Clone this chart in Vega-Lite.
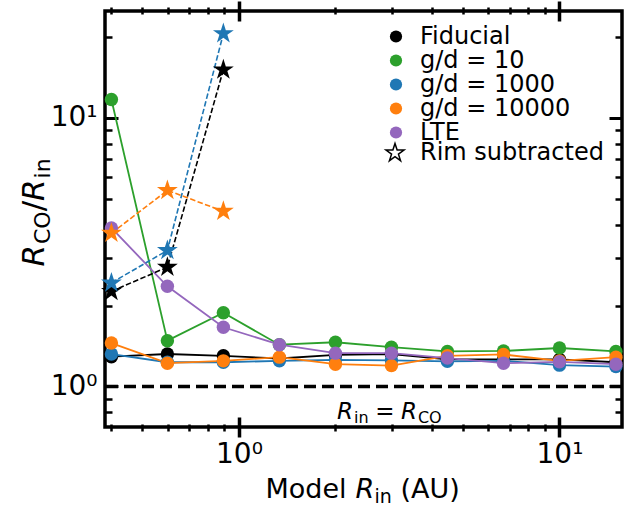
{
  "$schema": "https://vega.github.io/schema/vega-lite/v6.json",
  "width": 517,
  "height": 416,
  "autosize": {"type": "none"},
  "padding": {"left": 105, "top": 11, "right": 22, "bottom": 80},
  "background": "white",
  "config": {
    "font": "DejaVu Sans",
    "view": {"stroke": "black", "strokeWidth": 3.5},
    "axis": {"grid": false, "domain": false, "labelColor": "black", "titleColor": "black", "tickColor": "black", "titleFontWeight": "normal", "titleFont": "DejaVu Sans", "labelFont": "DejaVu Sans", "labelFlush": false, "labelOverlap": false, "labelBound": false}
  },
  "data": {"values": [
    {"series": "Fiducial", "rin": 0.4, "ratio": 1.29, "rim": false},
    {"series": "Fiducial", "rin": 0.598, "ratio": 1.32, "rim": false},
    {"series": "Fiducial", "rin": 0.894, "ratio": 1.30, "rim": false},
    {"series": "Fiducial", "rin": 1.337, "ratio": 1.27, "rim": false},
    {"series": "Fiducial", "rin": 2.0, "ratio": 1.31, "rim": false},
    {"series": "Fiducial", "rin": 2.99, "ratio": 1.32, "rim": false},
    {"series": "Fiducial", "rin": 4.47, "ratio": 1.26, "rim": false},
    {"series": "Fiducial", "rin": 6.69, "ratio": 1.26, "rim": false},
    {"series": "Fiducial", "rin": 10.0, "ratio": 1.26, "rim": false},
    {"series": "Fiducial", "rin": 15.0, "ratio": 1.23, "rim": false},
    {"series": "g/d = 10", "rin": 0.4, "ratio": 11.7, "rim": false},
    {"series": "g/d = 10", "rin": 0.598, "ratio": 1.48, "rim": false},
    {"series": "g/d = 10", "rin": 0.894, "ratio": 1.88, "rim": false},
    {"series": "g/d = 10", "rin": 1.337, "ratio": 1.43, "rim": false},
    {"series": "g/d = 10", "rin": 2.0, "ratio": 1.46, "rim": false},
    {"series": "g/d = 10", "rin": 2.99, "ratio": 1.40, "rim": false},
    {"series": "g/d = 10", "rin": 4.47, "ratio": 1.35, "rim": false},
    {"series": "g/d = 10", "rin": 6.69, "ratio": 1.355, "rim": false},
    {"series": "g/d = 10", "rin": 10.0, "ratio": 1.39, "rim": false},
    {"series": "g/d = 10", "rin": 15.0, "ratio": 1.35, "rim": false},
    {"series": "g/d = 1000", "rin": 0.4, "ratio": 1.32, "rim": false},
    {"series": "g/d = 1000", "rin": 0.598, "ratio": 1.23, "rim": false},
    {"series": "g/d = 1000", "rin": 0.894, "ratio": 1.23, "rim": false},
    {"series": "g/d = 1000", "rin": 1.337, "ratio": 1.245, "rim": false},
    {"series": "g/d = 1000", "rin": 2.0, "ratio": 1.255, "rim": false},
    {"series": "g/d = 1000", "rin": 2.99, "ratio": 1.25, "rim": false},
    {"series": "g/d = 1000", "rin": 4.47, "ratio": 1.24, "rim": false},
    {"series": "g/d = 1000", "rin": 6.69, "ratio": 1.245, "rim": false},
    {"series": "g/d = 1000", "rin": 10.0, "ratio": 1.20, "rim": false},
    {"series": "g/d = 1000", "rin": 15.0, "ratio": 1.185, "rim": false},
    {"series": "g/d = 10000", "rin": 0.4, "ratio": 1.45, "rim": false},
    {"series": "g/d = 10000", "rin": 0.598, "ratio": 1.22, "rim": false},
    {"series": "g/d = 10000", "rin": 0.894, "ratio": 1.245, "rim": false},
    {"series": "g/d = 10000", "rin": 1.337, "ratio": 1.285, "rim": false},
    {"series": "g/d = 10000", "rin": 2.0, "ratio": 1.21, "rim": false},
    {"series": "g/d = 10000", "rin": 2.99, "ratio": 1.195, "rim": false},
    {"series": "g/d = 10000", "rin": 4.47, "ratio": 1.30, "rim": false},
    {"series": "g/d = 10000", "rin": 6.69, "ratio": 1.315, "rim": false},
    {"series": "g/d = 10000", "rin": 10.0, "ratio": 1.245, "rim": false},
    {"series": "g/d = 10000", "rin": 15.0, "ratio": 1.285, "rim": false},
    {"series": "LTE", "rin": 0.4, "ratio": 3.89, "rim": false},
    {"series": "LTE", "rin": 0.598, "ratio": 2.36, "rim": false},
    {"series": "LTE", "rin": 0.894, "ratio": 1.66, "rim": false},
    {"series": "LTE", "rin": 1.337, "ratio": 1.43, "rim": false},
    {"series": "LTE", "rin": 2.0, "ratio": 1.33, "rim": false},
    {"series": "LTE", "rin": 2.99, "ratio": 1.33, "rim": false},
    {"series": "LTE", "rin": 4.47, "ratio": 1.275, "rim": false},
    {"series": "LTE", "rin": 6.69, "ratio": 1.22, "rim": false},
    {"series": "LTE", "rin": 10.0, "ratio": 1.235, "rim": false},
    {"series": "LTE", "rin": 15.0, "ratio": 1.21, "rim": false},
    {"series": "Fiducial", "rin": 0.4, "ratio": 2.26, "rim": true},
    {"series": "Fiducial", "rin": 0.598, "ratio": 2.78, "rim": true},
    {"series": "Fiducial", "rin": 0.894, "ratio": 15.1, "rim": true},
    {"series": "g/d = 1000", "rin": 0.4, "ratio": 2.43, "rim": true},
    {"series": "g/d = 1000", "rin": 0.598, "ratio": 3.21, "rim": true},
    {"series": "g/d = 1000", "rin": 0.894, "ratio": 20.6, "rim": true},
    {"series": "g/d = 10000", "rin": 0.4, "ratio": 3.72, "rim": true},
    {"series": "g/d = 10000", "rin": 0.598, "ratio": 5.37, "rim": true},
    {"series": "g/d = 10000", "rin": 0.894, "ratio": 4.49, "rim": true}
  ]},
  "layer": [
    {
      "data": {"values": [{}]},
      "mark": {"type": "rule", "color": "black", "strokeWidth": 3.5, "strokeDash": [12, 6]},
      "encoding": {
        "y": {"datum": 1, "type": "quantitative", "scale": {"type": "log", "domain": [0.706, 25], "nice": false},
          "axis": {"orient": "left", "values": [1, 10], "ticks": false, "tickSize": 0, "labelExpr": "datum.value == 1 ? '10⁰' : '10¹'", "labelFontSize": 28, "labelPadding": 8,
            "title": "R", "titleFontStyle": "italic", "titleFontSize": 31, "titleX": -62, "titleY": 255, "titleAngle": 270, "titleAlign": "left", "titleBaseline": "alphabetic"}}
      }
    },
    {
      "transform": [{"filter": "!datum.rim"}],
      "mark": {"type": "line", "strokeWidth": 1.8},
      "encoding": {
        "x": {"field": "rin", "type": "quantitative", "scale": {"type": "log", "domain": [0.382, 15.67], "nice": false},
          "axis": {"orient": "bottom", "values": [1, 10], "offset": -10, "tickSize": 20, "tickWidth": 3.5, "labelExpr": "datum.value == 1 ? '10⁰' : '10¹'", "labelFontSize": 28, "labelPadding": 3,
            "title": "Model", "titleFontSize": 27, "titleX": 160, "titleY": 80, "titleAlign": "left", "titleBaseline": "alphabetic"}},
        "y": {"field": "ratio", "type": "quantitative", "scale": {"type": "log", "domain": [0.706, 25], "nice": false},
          "axis": {"orient": "left", "values": [1, 10], "offset": -13, "tickSize": 13, "tickWidth": 3, "labels": false,
            "title": "CO", "titleFontSize": 22, "titleX": -69, "titleY": 232.5, "titleAngle": 270, "titleAlign": "left", "titleBaseline": "alphabetic"}},
        "color": {"field": "series", "type": "nominal",
          "scale": {"domain": ["Fiducial", "g/d = 10", "g/d = 1000", "g/d = 10000", "LTE"], "range": ["#000000", "#2ca02c", "#1f77b4", "#ff7f0e", "#9467bd"]},
          "legend": {"orient": "none", "legendX": 279, "legendY": 13.5, "title": null, "labelFontSize": 24, "labelFont": "DejaVu Sans", "labelColor": "black", "labelLimit": 0, "symbolSize": 150, "symbolType": "circle", "rowPadding": -0.7, "labelOffset": 12, "padding": 0, "symbolStrokeWidth": 0, "symbolOpacity": 1}}
      }
    },
    {
      "transform": [{"filter": "datum.rim"}],
      "mark": {"type": "line", "strokeWidth": 1.6, "strokeDash": [5.5, 2.4]},
      "encoding": {
        "x": {"field": "rin", "type": "quantitative", "scale": {"type": "log", "domain": [0.382, 15.67], "nice": false},
          "axis": {"orient": "bottom", "values": [0.4, 0.5, 0.6, 0.7, 0.8, 0.9, 2, 3, 4, 5, 6, 7, 8, 9], "offset": -3, "tickSize": 7, "tickWidth": 2.5, "labels": false,
            "title": "R", "titleFontStyle": "italic", "titleFontSize": 27, "titleX": 250, "titleY": 73, "titleAlign": "left", "titleBaseline": "alphabetic"}},
        "y": {"field": "ratio", "type": "quantitative", "scale": {"type": "log", "domain": [0.706, 25], "nice": false},
          "axis": {"orient": "left", "values": [0.8, 0.9, 2, 3, 4, 5, 6, 7, 8, 9, 20], "offset": -7, "tickSize": 7, "tickWidth": 2.5, "labels": false,
            "title": "/", "titleFontSize": 31, "titleX": -69, "titleY": 199.8, "titleAngle": 270, "titleAlign": "left", "titleBaseline": "alphabetic"}},
        "color": {"field": "series", "type": "nominal",
          "scale": {"domain": ["Fiducial", "g/d = 10", "g/d = 1000", "g/d = 10000", "LTE"], "range": ["#000000", "#2ca02c", "#1f77b4", "#ff7f0e", "#9467bd"]},
          "legend": {"orient": "none", "legendX": 279, "legendY": 13.5, "title": null, "labelFontSize": 24, "labelFont": "DejaVu Sans", "labelColor": "black", "labelLimit": 0, "symbolSize": 150, "symbolType": "circle", "rowPadding": -0.7, "labelOffset": 12, "padding": 0, "symbolStrokeWidth": 0, "symbolOpacity": 1}}
      }
    },
    {
      "transform": [{"filter": "!datum.rim"}],
      "mark": {"type": "point", "shape": "circle", "filled": true, "size": 180, "opacity": 1},
      "encoding": {
        "x": {"field": "rin", "type": "quantitative", "scale": {"type": "log", "domain": [0.382, 15.67], "nice": false},
          "axis": {"orient": "top", "values": [0.4, 0.5, 0.6, 0.7, 0.8, 0.9, 2, 3, 4, 5, 6, 7, 8, 9], "offset": -3, "tickSize": 7, "tickWidth": 2.5, "labels": false,
            "title": "in", "titleFontSize": 19, "titleX": 269, "titleY": 488, "titleAlign": "left", "titleBaseline": "alphabetic"}},
        "y": {"field": "ratio", "type": "quantitative", "scale": {"type": "log", "domain": [0.706, 25], "nice": false},
          "axis": {"orient": "right", "values": [1, 10], "offset": -13, "tickSize": 13, "tickWidth": 3, "labels": false,
            "title": "R", "titleFontStyle": "italic", "titleFontSize": 31, "titleX": -566, "titleY": 189.4, "titleAngle": 270, "titleAlign": "left", "titleBaseline": "alphabetic"}},
        "color": {"field": "series", "type": "nominal",
          "scale": {"domain": ["Fiducial", "g/d = 10", "g/d = 1000", "g/d = 10000", "LTE"], "range": ["#000000", "#2ca02c", "#1f77b4", "#ff7f0e", "#9467bd"]},
          "legend": {"orient": "none", "legendX": 279, "legendY": 13.5, "title": null, "labelFontSize": 24, "labelFont": "DejaVu Sans", "labelColor": "black", "labelLimit": 0, "symbolSize": 150, "symbolType": "circle", "rowPadding": -0.7, "labelOffset": 12, "padding": 0, "symbolStrokeWidth": 0, "symbolOpacity": 1}}
      }
    },
    {
      "transform": [{"filter": "datum.rim"}],
      "mark": {"type": "point", "filled": true, "size": 480, "opacity": 1},
      "encoding": {
        "x": {"field": "rin", "type": "quantitative", "scale": {"type": "log", "domain": [0.382, 15.67], "nice": false},
          "axis": {"orient": "top", "values": [1, 10], "offset": -10, "tickSize": 20, "tickWidth": 3.5, "labels": false,
            "title": "(AU)", "titleFontSize": 27, "titleX": 295, "titleY": 476, "titleAlign": "left", "titleBaseline": "alphabetic"}},
        "y": {"field": "ratio", "type": "quantitative", "scale": {"type": "log", "domain": [0.706, 25], "nice": false},
          "axis": {"orient": "right", "values": [0.8, 0.9, 2, 3, 4, 5, 6, 7, 8, 9, 20], "offset": -7, "tickSize": 7, "tickWidth": 2.5, "labels": false,
            "title": "in", "titleFontSize": 22, "titleX": -566, "titleY": 166.9, "titleAngle": 270, "titleAlign": "left", "titleBaseline": "alphabetic"}},
        "color": {"field": "series", "type": "nominal",
          "scale": {"domain": ["Fiducial", "g/d = 10", "g/d = 1000", "g/d = 10000", "LTE"], "range": ["#000000", "#2ca02c", "#1f77b4", "#ff7f0e", "#9467bd"]},
          "legend": {"orient": "none", "legendX": 279, "legendY": 13.5, "title": null, "labelFontSize": 24, "labelFont": "DejaVu Sans", "labelColor": "black", "labelLimit": 0, "symbolSize": 150, "symbolType": "circle", "rowPadding": -0.7, "labelOffset": 12, "padding": 0, "symbolStrokeWidth": 0, "symbolOpacity": 1}},
        "shape": {"datum": "Rim subtracted", "type": "nominal",
          "scale": {"domain": ["Rim subtracted"], "range": ["M0,-1L0.2245,-0.309L0.9511,-0.309L0.3633,0.118L0.5878,0.809L0,0.382L-0.5878,0.809L-0.3633,0.118L-0.9511,-0.309L-0.2245,-0.309Z"]},
          "legend": {"orient": "none", "legendX": 278, "legendY": 130, "title": null, "labelFontSize": 24, "labelFont": "DejaVu Sans", "labelColor": "black", "labelLimit": 0, "symbolSize": 360, "labelOffset": 13, "padding": 0, "symbolFillColor": "white", "symbolStrokeColor": "black", "symbolStrokeWidth": 1.5, "symbolOpacity": 1}}
      }
    },
    {
      "data": {"values": [{}]},
      "mark": {"type": "text", "text": "R", "font": "DejaVu Sans", "fontStyle": "italic", "fontSize": 23, "align": "left", "baseline": "alphabetic", "dx": -55, "color": "black"},
      "encoding": {"x": {"datum": 3, "type": "quantitative", "axis": null}, "y": {"datum": 0.7555, "type": "quantitative", "axis": null}}
    },
    {
      "data": {"values": [{}]},
      "mark": {"type": "text", "text": "in", "font": "DejaVu Sans", "fontSize": 16, "align": "left", "baseline": "alphabetic", "dx": -37.8, "dy": 4, "color": "black"},
      "encoding": {"x": {"datum": 3, "type": "quantitative", "axis": null}, "y": {"datum": 0.7555, "type": "quantitative", "axis": null}}
    },
    {
      "data": {"values": [{}]},
      "mark": {"type": "text", "text": "=", "font": "DejaVu Sans", "fontSize": 23, "align": "left", "baseline": "alphabetic", "dx": -16.7, "color": "black"},
      "encoding": {"x": {"datum": 3, "type": "quantitative", "axis": null}, "y": {"datum": 0.7555, "type": "quantitative", "axis": null}}
    },
    {
      "data": {"values": [{}]},
      "mark": {"type": "text", "text": "R", "font": "DejaVu Sans", "fontStyle": "italic", "fontSize": 23, "align": "left", "baseline": "alphabetic", "dx": 9, "color": "black"},
      "encoding": {"x": {"datum": 3, "type": "quantitative", "axis": null}, "y": {"datum": 0.7555, "type": "quantitative", "axis": null}}
    },
    {
      "data": {"values": [{}]},
      "mark": {"type": "text", "text": "CO", "font": "DejaVu Sans", "fontSize": 16, "align": "left", "baseline": "alphabetic", "dx": 26, "dy": 4, "color": "black"},
      "encoding": {"x": {"datum": 3, "type": "quantitative", "axis": null}, "y": {"datum": 0.7555, "type": "quantitative", "axis": null}}
    }
  ],
  "resolve": {"axis": {"x": "independent", "y": "independent"}}
}
